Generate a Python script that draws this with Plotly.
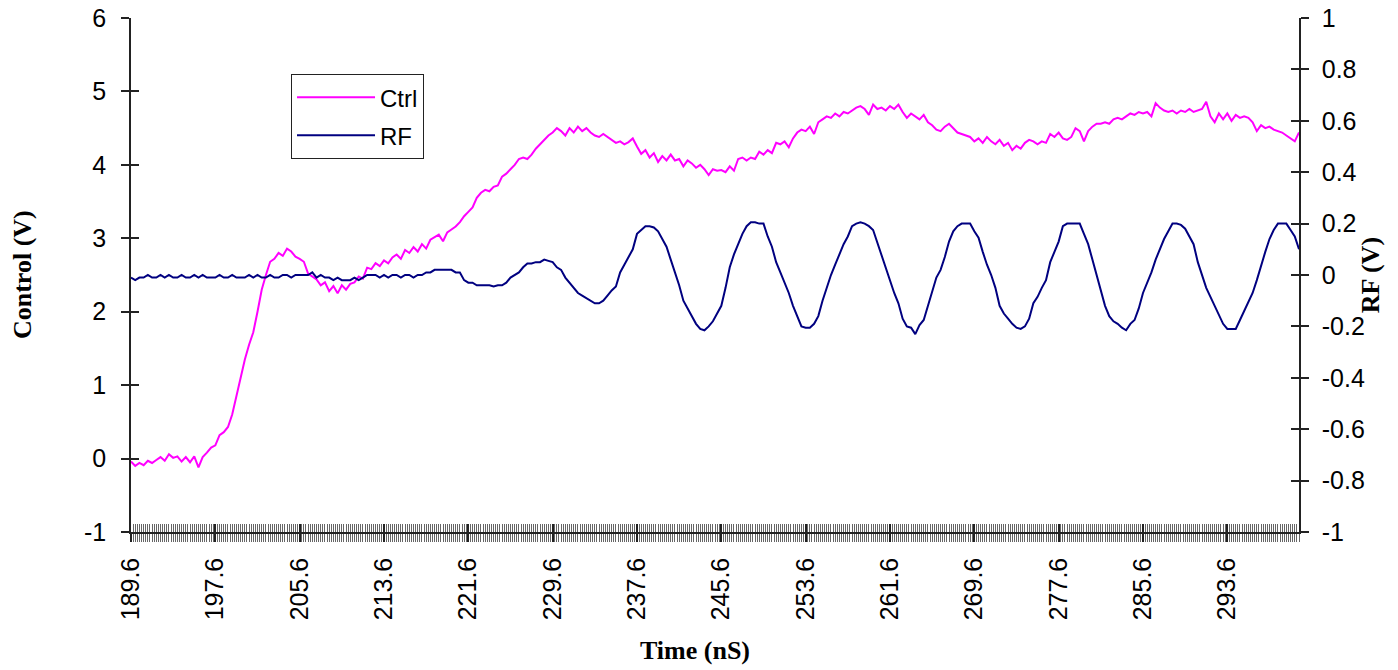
import numpy as np
import plotly.graph_objects as go

# Sampling grid (ns): 189.6 .. 300.4 every 0.4 ns
time_start = 189.6
time_step = 0.4

# Control voltage (V), one row per 8 ns label interval
ctrl = [
    -0.04, -0.10, -0.06, -0.09, -0.03, -0.06, -0.02, 0.02, -0.03, 0.06, 0.01, 0.03, -0.04, 0.02, -0.05, 0.03, -0.12, 0.02, 0.08, 0.15,
    0.18, 0.32, 0.36, 0.43, 0.60, 0.85, 1.10, 1.35, 1.55, 1.72, 2.00, 2.30, 2.50, 2.68, 2.72, 2.80, 2.76, 2.86, 2.82, 2.75,
    2.72, 2.68, 2.52, 2.48, 2.44, 2.36, 2.40, 2.28, 2.35, 2.25, 2.36, 2.30, 2.38, 2.40, 2.48, 2.45, 2.60, 2.58, 2.66, 2.62,
    2.70, 2.66, 2.74, 2.78, 2.72, 2.84, 2.80, 2.88, 2.82, 2.92, 2.86, 2.98, 3.02, 3.05, 2.96, 3.08, 3.12, 3.16, 3.22, 3.30,
    3.36, 3.42, 3.55, 3.62, 3.66, 3.64, 3.70, 3.72, 3.84, 3.88, 3.94, 4.00, 4.08, 4.10, 4.08, 4.14, 4.22, 4.28, 4.34, 4.40,
    4.44, 4.50, 4.46, 4.40, 4.50, 4.44, 4.52, 4.46, 4.50, 4.44, 4.40, 4.38, 4.42, 4.38, 4.34, 4.30, 4.32, 4.28, 4.31, 4.36,
    4.25, 4.15, 4.20, 4.10, 4.16, 4.04, 4.12, 4.06, 4.14, 4.06, 4.08, 3.98, 4.06, 4.02, 3.96, 4.00, 3.94, 3.86, 3.94, 3.92,
    3.93, 3.90, 3.98, 3.92, 4.08, 4.10, 4.06, 4.10, 4.08, 4.18, 4.14, 4.20, 4.16, 4.30, 4.28, 4.32, 4.24, 4.36, 4.44, 4.48,
    4.46, 4.52, 4.42, 4.58, 4.62, 4.66, 4.64, 4.70, 4.66, 4.72, 4.70, 4.74, 4.78, 4.80, 4.76, 4.68, 4.82, 4.76, 4.78, 4.74,
    4.80, 4.76, 4.82, 4.72, 4.64, 4.70, 4.66, 4.62, 4.68, 4.58, 4.54, 4.48, 4.46, 4.52, 4.56, 4.50, 4.44, 4.42, 4.40, 4.38,
    4.32, 4.36, 4.30, 4.38, 4.32, 4.28, 4.34, 4.26, 4.30, 4.20, 4.26, 4.22, 4.30, 4.34, 4.32, 4.28, 4.32, 4.30, 4.42, 4.38,
    4.44, 4.36, 4.34, 4.38, 4.50, 4.46, 4.32, 4.46, 4.52, 4.56, 4.56, 4.58, 4.56, 4.62, 4.64, 4.62, 4.66, 4.70, 4.68, 4.72,
    4.70, 4.72, 4.66, 4.84, 4.78, 4.74, 4.72, 4.74, 4.70, 4.74, 4.72, 4.76, 4.72, 4.74, 4.76, 4.86, 4.66, 4.58, 4.70, 4.62,
    4.70, 4.60, 4.68, 4.64, 4.66, 4.64, 4.58, 4.46, 4.54, 4.50, 4.52, 4.48, 4.46, 4.44, 4.40, 4.36, 4.32, 4.44,
]

# RF voltage (V)
rf = [
    -0.01, -0.02, -0.01, -0.01, 0.00, -0.01, -0.01, 0.00, -0.01, 0.00, -0.01, -0.01, 0.00, -0.01, -0.01, 0.00, -0.01, 0.00, -0.01, -0.01,
    -0.01, 0.00, -0.01, -0.01, 0.00, -0.01, -0.01, -0.01, 0.00, -0.01, 0.00, -0.01, -0.01, 0.00, -0.01, -0.01, 0.00, 0.00, -0.01, 0.00,
    0.00, 0.00, 0.00, 0.01, -0.01, 0.00, -0.01, -0.01, -0.02, -0.01, -0.02, -0.02, -0.02, -0.01, -0.02, -0.01, 0.00, 0.00, 0.00, -0.01,
    0.00, -0.01, 0.00, 0.00, -0.01, 0.00, 0.00, -0.01, 0.00, 0.00, 0.01, 0.01, 0.02, 0.02, 0.02, 0.02, 0.02, 0.01, 0.01, -0.02,
    -0.03, -0.03, -0.04, -0.04, -0.04, -0.04, -0.045, -0.04, -0.04, -0.03, -0.01, 0.00, 0.01, 0.03, 0.045, 0.045, 0.05, 0.05, 0.06, 0.055,
    0.05, 0.03, 0.02, -0.01, -0.03, -0.05, -0.07, -0.08, -0.09, -0.10, -0.11, -0.11, -0.10, -0.08, -0.06, -0.045, 0.01, 0.04, 0.07, 0.10,
    0.16, 0.175, 0.19, 0.19, 0.185, 0.17, 0.14, 0.11, 0.06, 0.01, -0.04, -0.10, -0.13, -0.16, -0.19, -0.21, -0.215, -0.20, -0.18, -0.15,
    -0.12, -0.05, 0.03, 0.08, 0.12, 0.16, 0.19, 0.205, 0.205, 0.20, 0.20, 0.15, 0.11, 0.05, 0.01, -0.03, -0.07, -0.12, -0.16, -0.20,
    -0.205, -0.205, -0.19, -0.16, -0.10, -0.05, 0.00, 0.04, 0.08, 0.12, 0.15, 0.19, 0.20, 0.205, 0.20, 0.19, 0.175, 0.125, 0.08, 0.03,
    -0.02, -0.07, -0.11, -0.17, -0.20, -0.205, -0.23, -0.195, -0.175, -0.12, -0.06, -0.01, 0.02, 0.07, 0.13, 0.17, 0.19, 0.20, 0.20, 0.20,
    0.17, 0.145, 0.09, 0.04, 0.00, -0.05, -0.12, -0.15, -0.17, -0.19, -0.205, -0.21, -0.20, -0.17, -0.11, -0.085, -0.05, -0.02, 0.05, 0.09,
    0.13, 0.19, 0.20, 0.20, 0.20, 0.20, 0.16, 0.12, 0.06, 0.00, -0.07, -0.12, -0.16, -0.18, -0.19, -0.205, -0.215, -0.19, -0.175, -0.13,
    -0.07, -0.03, 0.01, 0.06, 0.10, 0.14, 0.17, 0.20, 0.20, 0.195, 0.18, 0.15, 0.12, 0.05, 0.00, -0.05, -0.085, -0.12, -0.16, -0.19,
    -0.21, -0.21, -0.21, -0.175, -0.14, -0.11, -0.07, -0.02, 0.04, 0.09, 0.14, 0.175, 0.20, 0.20, 0.20, 0.175, 0.15, 0.10,
]

time = np.round(time_start + time_step * np.arange(len(ctrl)), 1)

# Category labels shown on the time axis
x_tick_vals = [189.6, 197.6, 205.6, 213.6, 221.6, 229.6, 237.6, 245.6, 253.6, 261.6, 269.6, 277.6, 285.6, 293.6]
x_tick_text = ["189.6", "197.6", "205.6", "213.6", "221.6", "229.6", "237.6", "245.6", "253.6", "261.6", "269.6", "277.6", "285.6", "293.6"]
y1_tick_vals = [-1, 0, 1, 2, 3, 4, 5, 6]
y1_tick_text = ["-1", "0", "1", "2", "3", "4", "5", "6"]
y2_tick_vals = [-1, -0.8, -0.6, -0.4, -0.2, 0, 0.2, 0.4, 0.6, 0.8, 1]
y2_tick_text = ["-1", "-0.8", "-0.6", "-0.4", "-0.2", "0", "0.2", "0.4", "0.6", "0.8", "1"]

xr = [float(time[0]), float(time[-1])]
sans = "Liberation Sans, Arial, sans-serif"
serif = "Liberation Serif, Times New Roman, serif"
TICKF = dict(family=sans, size=25, color="#000")

fig = go.Figure()
fig.add_trace(go.Scatter(x=time, y=ctrl, mode="lines", name="Ctrl",
                         line=dict(color="#FF00FF", width=2), xaxis="x", yaxis="y",
                         legendgroup="a"))
fig.add_trace(go.Scatter(x=time, y=rf, mode="lines", name="RF",
                         line=dict(color="#000080", width=2), xaxis="x", yaxis="y2",
                         legendgroup="b"))

common = dict(showgrid=False, zeroline=False, ticklen=8, tickwidth=1.5, tickcolor="#222",
              automargin=False)

fig.update_layout(
    width=1398, height=670,
    margin=dict(l=131, r=99, t=18, b=138),
    paper_bgcolor="white", plot_bgcolor="white",
    font=dict(family=sans, size=25, color="#000"),
    xaxis=dict(range=xr, tickvals=x_tick_vals, ticktext=x_tick_text, tickangle=-90,
               ticks="outside", showline=True, linecolor="#222", linewidth=1.5,
               tickfont=TICKF, ticklabelstandoff=6,
               minor=dict(dtick=0.2, tick0=189.6, ticks="outside", ticklen=8, tickwidth=1, tickcolor="#666"),
               anchor="y", **common),
    xaxis2=dict(range=xr, overlaying="x", anchor="y", side="bottom", showticklabels=False,
                tickvals=x_tick_vals, ticks="inside",
                minor=dict(dtick=0.2, tick0=189.6, ticks="inside", ticklen=8, tickwidth=1, tickcolor="#666"),
                **common),
    yaxis=dict(range=[-1, 6], tickvals=y1_tick_vals, ticktext=y1_tick_text, ticks="outside",
               tickfont=TICKF, ticklabelstandoff=10,
               showline=True, linecolor="#222", linewidth=1.5, anchor="x", **common),
    yaxis3=dict(range=[-1, 6], tickvals=y1_tick_vals, ticks="inside", showticklabels=False,
                overlaying="y", anchor="x", side="left", **common),
    yaxis2=dict(range=[-1, 1], tickvals=y2_tick_vals, ticktext=y2_tick_text, ticks="outside",
                tickfont=TICKF, ticklabelstandoff=8,
                overlaying="y", side="right", anchor="x",
                showline=True, linecolor="#222", linewidth=1.5, **common),
    yaxis4=dict(range=[-1, 1], tickvals=y2_tick_vals, ticks="inside", showticklabels=False,
                overlaying="y", side="right", anchor="x", **common),
    showlegend=True,
    legend=dict(x=0.137, y=0.891, xanchor="left", yanchor="top",
                bordercolor="#222", borderwidth=1, bgcolor="white",
                itemwidth=78,
                font=dict(family=sans, size=24), tracegroupgap=4),
    annotations=[
        dict(text="<b>Control (V)</b>", xref="paper", yref="paper", x=-0.0933, y=0.5,
             xanchor="center", yanchor="middle",
             textangle=-90, showarrow=False, font=dict(family=serif, size=26)),
        dict(text="<b>RF (V)</b>", xref="paper", yref="paper", x=1.061, y=0.5,
             xanchor="center", yanchor="middle",
             textangle=-90, showarrow=False, font=dict(family=serif, size=26)),
        dict(text="<b>Time (nS)</b>", xref="paper", yref="paper", x=0.483, y=-0.2296,
             xanchor="center", yanchor="middle",
             showarrow=False, font=dict(family=serif, size=26)),
    ],
)

# invisible traces to activate overlay axes
fig.add_trace(go.Scatter(x=[None], y=[None], xaxis="x2", yaxis="y3", showlegend=False, hoverinfo="skip"))
fig.add_trace(go.Scatter(x=[None], y=[None], xaxis="x", yaxis="y4", showlegend=False, hoverinfo="skip"))

fig.write_html("out.html", config={"displayModeBar": False},
               post_script="document.body.style.margin='0';document.body.style.overflow='hidden';")
